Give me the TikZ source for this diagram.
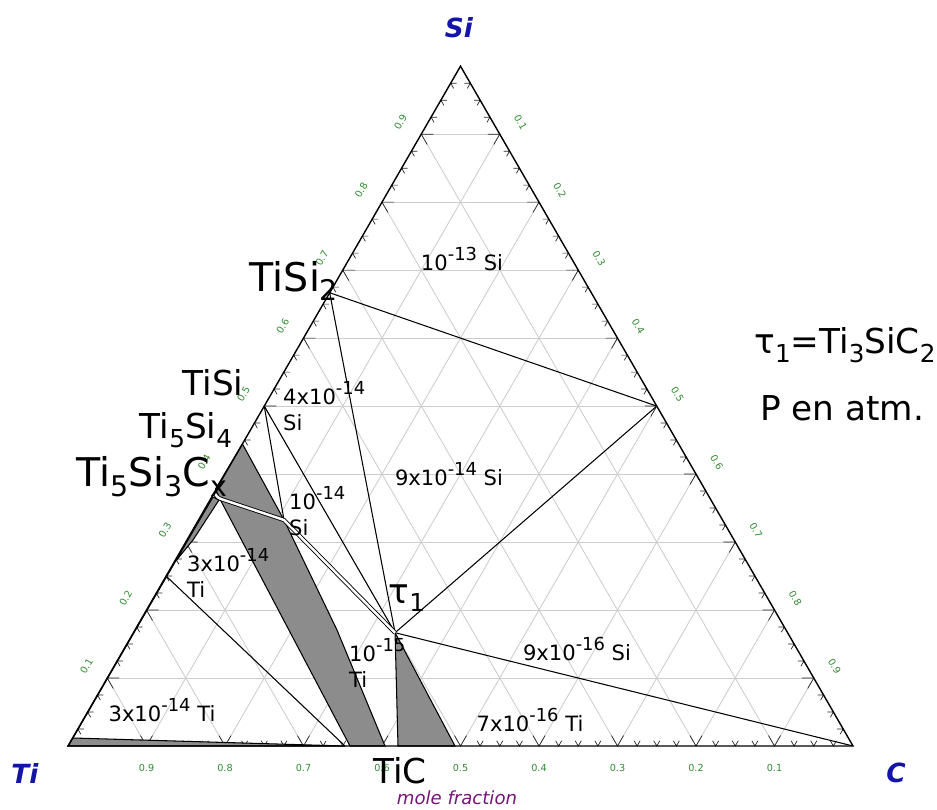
\documentclass[tikz,border=0pt]{standalone}
\usepackage{fontspec}
\setmainfont{DejaVu Sans}
\usetikzlibrary{calc}

\definecolor{titleblue}{RGB}{20,20,170}
\definecolor{ticklabel}{RGB}{50,140,50}
\definecolor{molepurple}{RGB}{120,20,120}
\definecolor{phasegray}{RGB}{140,140,140}
\definecolor{gridgray}{RGB}{205,205,205}

% 指数与下标
\newcommand{\pw}[1]{\raisebox{0.5em}{\scalebox{0.85}{#1}}}
\newcommand{\ix}[1]{\raisebox{-0.25em}{\scalebox{0.72}{#1}}}

\begin{document}
\begin{tikzpicture}[
    gridline/.style={gridgray, line width=0.5pt},
    tickmark/.style={black!85, line width=0.4pt},
    edgeline/.style={black, line width=0.8pt},
    phaseline/.style={black, line width=0.6pt},
    phasefill/.style={fill=phasegray, draw=black, line width=0.6pt},
    twophase/.style={draw=black, double=white, double distance=1.4pt, line width=0.5pt},
    compound/.style={font=\fontsize{19.5}{23}\selectfont},
    bigcompound/.style={font=\fontsize{22.5}{26}\selectfont},
    pressure/.style={font=\fontsize{12}{14.6}\selectfont, align=left},
    axislabel/.style={font=\fontsize{5.5}{6.5}\selectfont, text=ticklabel},
    corner/.style={font=\fontsize{15}{18}\selectfont\bfseries\itshape, text=titleblue},
]
    \useasboundingbox (-1.36,-1.26) rectangle (17.38,14.92);

    % 定义顶点坐标
    \coordinate (Ti) at (0,0);
    \coordinate (C) at (15.7,0);
    \coordinate (Si) at (60:15.7);

    % === 网格线 ===
    \foreach \f in {0.1,0.2,...,0.9} {
        \draw[gridline] ($(Ti)!\f!(Si)$) -- ($(C)!\f!(Si)$);
        \draw[gridline] ($(Ti)!\f!(C)$) -- ($(Si)!\f!(C)$);
        \draw[gridline] ($(C)!\f!(Ti)$) -- ($(Si)!\f!(Ti)$);
    }

    % === 刻度 ===
    \foreach \i in {1,...,39} {
        \pgfmathsetmacro\f{\i/40}
        \pgfmathsetmacro\len{ifthenelse(mod(\i,4)==0,0.24,0.12)}
        \draw[tickmark] ($(Ti)!\f!(C)$) ++(60:\len) -- ++(240:\len) -- ++(120:\len);
        \draw[tickmark] ($(Ti)!\f!(Si)$) ++(0:\len) -- ++(180:\len) -- ++(-60:\len);
        \draw[tickmark] ($(C)!\f!(Si)$) ++(180:\len) -- ++(0:\len) -- ++(240:\len);
    }

    % 刻度数字
    \foreach \k [evaluate=\k as \r using int(10-\k)] in {1,...,9} {
        \node[axislabel] (b\k) at ($(Ti)!\k/10!(C)+(0,-0.44)$) {0.\r};
        \node[axislabel, rotate=60] (l\k) at ($(Ti)!\k/10!(Si)+(150:0.48)$) {0.\k};
        \node[axislabel, rotate=-60] (r\k) at ($(Si)!\k/10!(C)+(30:0.48)$) {0.\k};
    }

    % === 化合物位置 ===
    \coordinate (TiSi2) at ($(Ti)!0.6667!(Si)$);
    \coordinate (TiSi) at ($(Ti)!0.5!(Si)$);
    \coordinate (Ti5Si4) at ($(Ti)!0.4444!(Si)$);
    \coordinate (SiC) at ($(Si)!0.5!(C)$);
    \coordinate (tau) at (barycentric cs:Ti=3,Si=1,C=2);
    \coordinate (TiCl) at (6.6,0);
    \coordinate (TiCr) at (7.74,0);
    \coordinate (K) at (4.32,4.52);    % 两相窄带的拐点
    \coordinate (M) at (5.38,2.32);
    \coordinate (B1) at (6.34,0);
    \coordinate (B2) at (5.64,0);
    \coordinate (L1) at (3.08,4.86);
    \coordinate (E1) at (2.95,5.14);
    \coordinate (E0) at (2.93,5.06);
    \coordinate (S25) at ($(Ti)!0.25!(Si)$);
    \coordinate (S25b) at (5.54,0);

    % === 灰色单相区 ===
    % 1. 斜带
    \draw[phasefill] (Ti5Si4) -- (K) -- (M) -- (B1) -- (B2) -- (L1) -- (E1) -- cycle;
    % 2. 左边缘细条
    \draw[phasefill] (2.9,4.98) -- (3.02,4.92) -- (2.5,4.12) -- (2.14,3.68)
        -- (0.1,0.16) -- (Ti) -- cycle;
    % 3. 底边细条
    \draw[phasefill] (Ti) -- (0.1,0.16) -- (S25b) -- cycle;
    % 4. TiC 三角
    \draw[phasefill] (tau) -- (TiCl) -- (TiCr) -- cycle;

    % === 连线 ===
    \draw[phaseline] (TiSi2) -- (SiC);
    \draw[phaseline] (TiSi2) -- (tau);
    \draw[phaseline] (SiC) -- (tau);
    \draw[phaseline] (tau) -- (C);
    \draw[phaseline] (TiSi) -- (tau);
    \draw[phaseline] (TiSi) -- (K);
    \draw[phaseline] (S25) -- (S25b);
    \draw[twophase] (E0) .. controls (3.0,4.96) .. (3.12,4.92) -- (K) -- (tau);

    % === 三角形各边 ===
    \draw[edgeline] (Ti) -- (C) -- (Si) -- cycle;

    % 顶点字母
    \node[corner] (nSi) at (7.82,14.36) {Si};
    \node[corner] (nTi) at (-0.86,-0.54) {Ti};
    \node[corner] (nC) at (16.56,-0.54) {C};
    \node[font=\fontsize{10.3}{12}\selectfont\itshape, text=molepurple] (mole) at (7.78,-1.04) {mole fraction};

    % 化合物标注
    \node[bigcompound] (lTiSi2) at (4.52,9.30) {TiSi\ix{2}};
    \node[compound] (lTiSi) at (2.9,7.26) {TiSi};
    \node[compound] (lTi5Si4) at (2.36,6.32) {Ti\ix{5}Si\ix{4}};
    \node[bigcompound] (lTi5Si3) at (1.68,5.38) {Ti\ix{5}Si\ix{3}C\ix{x}};
    \node[compound] (lTiC) at (6.64,-0.5) {TiC};
    \node[compound] (ltau) at (6.78,2.96) {τ\ix{1}};
    \node[compound] (ldef) at (15.54,8.02) {τ\ix{1}=Ti\ix{3}SiC\ix{2}};
    \node[compound] (lunit) at (15.48,6.76) {P en atm.};

    % 压力标注
    \node[pressure] (p1) at (7.88,9.74) {10\pw{-13} Si};
    \node[pressure, anchor=west] (p2) at (4.18,6.8) {4x10\pw{-14}\\Si};
    \node[pressure] (p3) at (7.62,5.44) {9x10\pw{-14} Si};
    \node[pressure, anchor=west] (p4) at (4.3,4.7) {10\pw{-14}\\Si};
    \node[pressure, anchor=west] (p5) at (2.26,3.46) {3x10\pw{-14}\\Ti};
    \node[pressure, anchor=west] (p6) at (5.5,1.66) {10\pw{-15}\\Ti};
    \node[pressure] (p7) at (10.18,1.94) {9x10\pw{-16} Si};
    \node[pressure] (p8) at (9.24,0.52) {7x10\pw{-16} Ti};
    \node[pressure] (p9) at (1.88,0.72) {3x10\pw{-14} Ti};
\end{tikzpicture}
\end{document}
